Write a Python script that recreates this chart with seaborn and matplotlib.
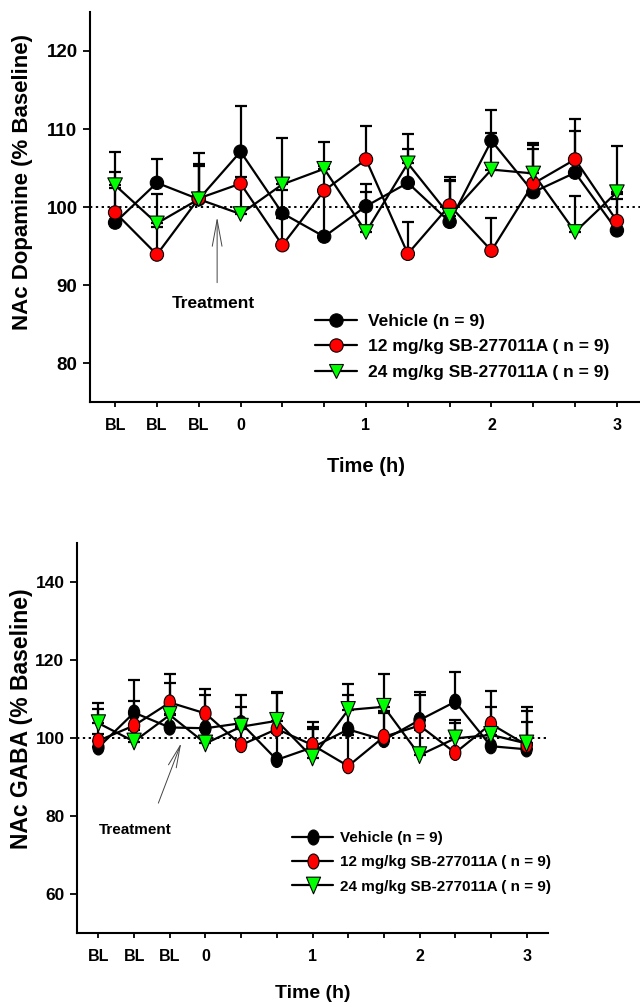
import numpy as np
import pandas as pd
import matplotlib
matplotlib.use("Agg")
import matplotlib.pyplot as plt
import seaborn as sns
from matplotlib.lines import Line2D
from matplotlib.path import Path

# ---------------- data ----------------
time_idx = list(range(13))
xtick_labels = ["BL", "BL", "BL", "0", "", "", "1", "", "", "2", "", "", "3"]
groups = ["Vehicle (n = 9)", "12 mg/kg SB-277011A ( n = 9)", "24 mg/kg SB-277011A ( n = 9)"]
colors = ["black", "#ff0000", "#00ff00"]

# Top panel: NAc Dopamine (% baseline), mean and SEM
da_vehicle = [98.0, 103.1, 101.0, 107.1, 99.2, 96.2, 100.1, 103.1, 98.1, 108.5, 101.9, 104.4, 97.0]
da_vehicle_sem = [6.5, 3.0, 5.9, 5.8, 3.0, 5.5, 2.8, 4.4, 5.4, 3.9, 5.5, 5.3, 4.7]
da_12mg = [99.3, 93.9, 101.1, 103.0, 95.1, 102.1, 106.1, 94.0, 100.2, 94.4, 103.0, 106.1, 98.2]
da_12mg_sem = [3.1, 3.5, 4.4, 3.8, 3.5, 3.1, 4.3, 4.1, 3.6, 4.2, 4.9, 5.2, 2.8]
da_24mg = [102.8, 97.9, 101.0, 99.1, 102.9, 104.9, 96.8, 105.6, 98.9, 104.8, 104.3, 96.8, 101.9]
da_24mg_sem = [4.3, 3.8, 4.2, 4.7, 5.9, 3.4, 5.1, 3.7, 4.4, 4.7, 3.9, 4.6, 5.9]

# Bottom panel: NAc GABA (% baseline), mean and SEM
gaba_vehicle = [97.6, 106.5, 102.7, 102.5, 103.8, 94.4, 97.6, 102.2, 99.5, 104.6, 109.3, 97.9, 97.1]
gaba_vehicle_sem = [3.5, 8.5, 3.5, 8.5, 7.2, 7.0, 5.3, 8.8, 7.0, 7.1, 7.5, 4.0, 9.7]
gaba_12mg = [99.3, 103.2, 109.1, 106.3, 98.2, 102.3, 98.2, 92.8, 100.3, 103.2, 96.2, 103.6, 98.2]
gaba_12mg_sem = [8.1, 6.3, 7.2, 6.2, 4.0, 9.2, 5.8, 8.0, 6.5, 7.8, 7.6, 8.5, 9.8]
gaba_24mg = [103.8, 99.1, 105.9, 98.6, 102.9, 104.4, 95.0, 107.2, 108.0, 95.6, 99.9, 100.8, 98.6]
gaba_24mg_sem = [5.1, 3.0, 8.1, 3.5, 5.1, 7.5, 7.2, 6.6, 8.4, 6.5, 4.7, 7.2, 5.4]

# ---------------- style ----------------
sns.set_style("ticks")
plt.rcParams["font.family"] = ["Liberation Sans", "DejaVu Sans"]
plt.rcParams["font.weight"] = "bold"
plt.rcParams["axes.labelweight"] = "bold"
for k in ["text.color", "axes.labelcolor", "xtick.color", "ytick.color",
          "axes.edgecolor", "xtick.labelcolor", "ytick.labelcolor"]:
    plt.rcParams[k] = "black"

fig = plt.figure(figsize=(6.4, 10.07), dpi=100)
W, H = 640.0, 1007.0
ax1 = fig.add_axes([90 / W, 1 - 402 / H, 552 / W, 390 / H])
ax2 = fig.add_axes([77 / W, 1 - 933 / H, 471 / W, 390 / H])

# custom (vertically elongated) markers for the bottom panel
circ = Path.unit_circle()
ellipse = Path(circ.vertices * np.array([0.74, 1.0]), circ.codes)
tri_down = Path([(-0.85, 1.0), (0.85, 1.0), (0.0, -1.0), (-0.85, 1.0)],
                [Path.MOVETO, Path.LINETO, Path.LINETO, Path.CLOSEPOLY])


def make_df(means):
    rows = []
    for g, m in zip(groups, means):
        for i, v in zip(time_idx, m):
            rows.append({"time": i, "value": v, "group": g})
    return pd.DataFrame(rows)


def panel(ax, means, sems, markers, sizes, capsize, ylim, yticks, ylabel,
          tick_fs, xtick_fs, label_fs, xlabel_fs, ylabel_xy, xlabel_y):
    df = make_df(means)
    sns.lineplot(data=df, x="time", y="value", hue="group", hue_order=groups,
                 palette={g: "black" for g in groups}, estimator=None, sort=False,
                 lw=1.6, legend=False, ax=ax, zorder=2)
    for m, e in zip(means, sems):
        ax.errorbar(time_idx, m, yerr=[np.zeros(len(e)), e], fmt="none",
                    ecolor="black", elinewidth=1.6, capsize=capsize, capthick=1.6,
                    zorder=2)
    sns.scatterplot(data=df, x="time", y="value", hue="group", hue_order=groups,
                    style="group", style_order=groups,
                    palette=dict(zip(groups, colors)),
                    markers=dict(zip(groups, markers)), size="group",
                    sizes=dict(zip(groups, sizes)),
                    edgecolor="black", linewidth=0.8, legend=False, ax=ax, zorder=3)
    ax.axhline(100, ls=(0, (1.2, 1.8)), color="black", lw=1.4, zorder=1)
    ax.set_xlim(-0.6, 12.6)
    ax.set_ylim(*ylim)
    ax.set_yticks(yticks)
    ax.set_xticks(time_idx)
    ax.set_xticklabels(xtick_labels, fontsize=xtick_fs, fontweight="bold")
    ax.set_yticklabels([str(t) for t in yticks], fontsize=tick_fs, fontweight="bold")
    sns.despine(ax=ax)
    for s in ["left", "bottom"]:
        ax.spines[s].set_linewidth(1.5)
        ax.spines[s].set_color("black")
    ax.tick_params(axis="y", length=5, width=1.3, pad=4, colors="black")
    ax.tick_params(axis="x", length=3.6, width=1.3, pad=8, colors="black")
    ax.set_ylabel(ylabel, fontsize=label_fs, fontweight="bold", color="black")
    ax.set_xlabel("Time (h)", fontsize=xlabel_fs, fontweight="bold", color="black")
    ax.yaxis.set_label_coords(*ylabel_xy)
    ax.xaxis.set_label_coords(0.5, xlabel_y)
    ax.xaxis.label.set_va("top")


panel(ax1, [da_vehicle, da_12mg, da_24mg], [da_vehicle_sem, da_12mg_sem, da_24mg_sem],
      ["o", "o", "v"], [92, 92, 110], 4, (75, 125), [80, 90, 100, 110, 120],
      "NAc Dopamine (% Baseline)", 13.5, 11.5, 16, 14.5, (-0.103, 0.564), -0.141)
panel(ax2, [gaba_vehicle, gaba_12mg, gaba_24mg], [gaba_vehicle_sem, gaba_12mg_sem, gaba_24mg_sem],
      [ellipse, ellipse, tri_down], [120, 120, 145], 4.5, (50, 150), [60, 80, 100, 120, 140],
      "NAc GABA (% Baseline)", 12.5, 11.5, 16.5, 14, (-0.093, 0.549), -0.133)

# Treatment annotations
ax1.annotate("", xy=(2.44, 98.7), xytext=(2.44, 90.3),
             arrowprops=dict(arrowstyle="->,head_length=1.9,head_width=0.35",
                             mutation_scale=10, lw=0.7, color="#444444",
                             shrinkA=0, shrinkB=0))
ax1.text(2.34, 87.6, "Treatment", ha="center", va="center", fontsize=12.5,
         fontweight="bold", color="black")
ax2.annotate("", xy=(2.32, 98.7), xytext=(1.68, 83.3),
             arrowprops=dict(arrowstyle="->,head_length=1.6,head_width=0.3",
                             mutation_scale=10, lw=0.7, color="#444444",
                             shrinkA=0, shrinkB=0))
ax2.text(1.04, 76.4, "Treatment", ha="center", va="center", fontsize=11,
         fontweight="bold", color="black")


def legend(ax, markers, msizes, anchor, fs, hl, htp, ls):
    handles = [Line2D([], [], color="black", lw=1.6, marker=m, markersize=s,
                      markerfacecolor=c, markeredgecolor="black", markeredgewidth=0.8)
               for m, s, c in zip(markers, msizes, colors)]
    leg = ax.legend(handles, groups, loc="upper left", bbox_to_anchor=anchor,
                    bbox_transform=fig.transFigure, frameon=False, borderpad=0,
                    borderaxespad=0, handlelength=hl, handletextpad=htp,
                    labelspacing=ls, prop={"weight": "bold", "size": fs})
    for t in leg.get_texts():
        t.set_color("black")
    return leg


legend(ax1, ["o", "o", "v"], [9.6, 9.6, 10.5], (315 / W, 1 - 313.5 / H), 12.5, 2.4, 0.63, 0.6)
legend(ax2, [ellipse, ellipse, tri_down], [10.8, 10.8, 12], (292 / W, 1 - 831 / H), 11, 2.7, 0.46, 0.68)

fig.savefig("out.png", dpi=100)
